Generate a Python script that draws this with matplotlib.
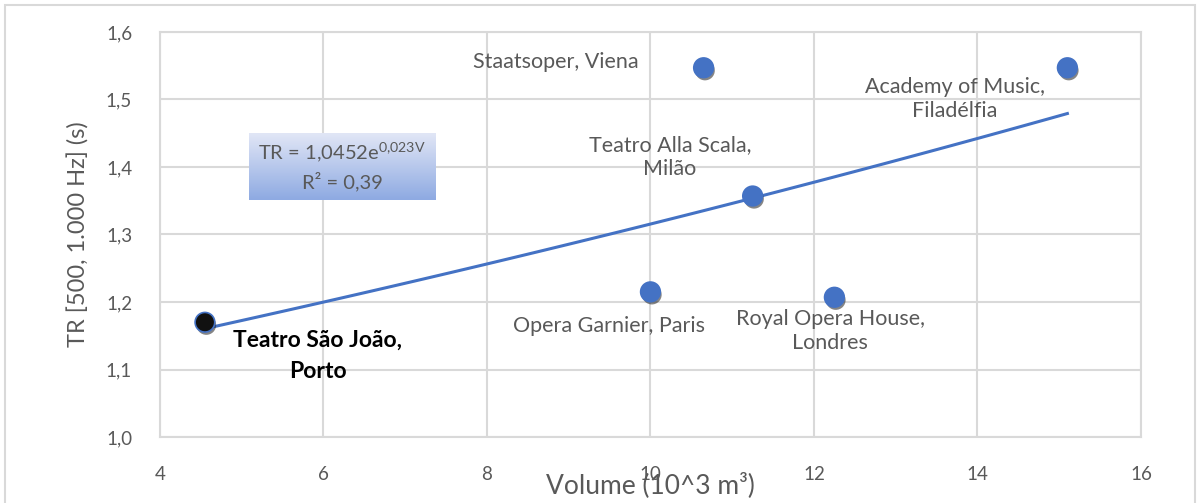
import numpy as np
import matplotlib
matplotlib.use('Agg')
import matplotlib.pyplot as plt
import matplotlib.patheffects as pe
from matplotlib.patches import Rectangle
from matplotlib.ticker import FuncFormatter
from matplotlib.colors import LinearSegmentedColormap

plt.rcParams['font.family'] = ['Lato', 'DejaVu Sans']
plt.rcParams['mathtext.fontset'] = 'custom'
plt.rcParams['mathtext.rm'] = 'Lato'

# dados
salas = ['Teatro São João,\nPorto', 'Opera Garnier, Paris', 'Staatsoper, Viena',
         'Teatro Alla Scala,\nMilão', 'Royal Opera House,\nLondres', 'Academy of Music,\nFiladélfia']
volume = [4.55, 10.0, 10.65, 11.25, 12.25, 15.1]
tr = [1.17, 1.215, 1.547, 1.357, 1.207, 1.547]

# linha de tendência exponencial (equação mostrada no gráfico)
coef_a = 1.0452
coef_b = 0.023

GRAY = '#595959'
BLUE = '#4472c4'
GRID = '#d9d9d9'

fig = plt.figure(figsize=(12, 5.03), dpi=100)
ax = fig.add_axes([0.1333, 0.1312, 0.8175, 0.8052])

# moldura exterior
fig.patches.append(Rectangle((5 / 1200, -0.1), 1190 / 1200, 1.1 - 5 / 503,
                             transform=fig.transFigure, fill=False,
                             edgecolor=GRID, linewidth=1.5))

ax.set_xlim(4, 16)
ax.set_ylim(1.0, 1.6)
ax.set_xticks(np.arange(4, 17, 2))
ax.set_yticks(np.arange(1.0, 1.61, 0.1))
ax.grid(True, color=GRID, linewidth=1.5)
ax.set_axisbelow(True)
for s in ax.spines.values():
    s.set_color(GRID)
    s.set_linewidth(1.5)
ax.tick_params(length=0, colors=GRAY, labelsize=13.5)
ax.tick_params(axis='x', pad=21)
ax.tick_params(axis='y', pad=20)
ax.yaxis.set_major_formatter(FuncFormatter(lambda v, p: f'{v:.1f}'.replace('.', ',')))

vx = np.linspace(volume[0], volume[-1], 100)
ax.plot(vx, coef_a * np.exp(coef_b * vx), color=BLUE, linewidth=2.2, zorder=2)

sombra = [pe.SimplePatchShadow(offset=(1, -2), shadow_rgbFace='#222222', alpha=0.55), pe.Normal()]
cores = ['#111111'] + [BLUE] * (len(volume) - 1)
ax.scatter(volume, tr, s=200, c=cores, edgecolors=BLUE, linewidths=1.2, zorder=3,
           path_effects=sombra)

# rótulos
pos = [(5.93, 1.12), (9.49, 1.164), (8.84, 1.556), (10.24, 1.415), (12.2, 1.157), (13.72, 1.50)]
for i, nome in enumerate(salas):
    if i == 0:
        ax.text(*pos[i], nome, ha='center', va='center', fontsize=16.5,
                fontweight='bold', color='black', linespacing=1.6)
    else:
        ax.text(*pos[i], nome, ha='center', va='center', fontsize=15.5,
                color=GRAY, linespacing=1.25)

# caixa da equação
bx0, bx1 = (249 - 160) / 81.75 + 4, (435 - 160) / 81.75 + 4
by0, by1 = 1.6 - (200 - 32) / 675, 1.6 - (134 - 32) / 675
grad = np.linspace(0, 1, 100).reshape(-1, 1)
cmap = LinearSegmentedColormap.from_list('eq', ['#e1e6f6', '#8eaae2'])
ax.imshow(grad, extent=(bx0, bx1, by0, by1), cmap=cmap, aspect='auto', zorder=2.5,
          origin='upper')
ax.set_xlim(4, 16)
ax.set_ylim(1.0, 1.6)
ax.text((bx0 + bx1) / 2, by1 - 0.028, r'TR = 1,0452e$^{\mathrm{0{,}023V}}$', ha='center',
        va='center', fontsize=14.5, color=GRAY, zorder=4)
ax.text((bx0 + bx1) / 2, by0 + 0.027, 'R² = 0,39', ha='center', va='center',
        fontsize=14.5, color=GRAY, zorder=4)

ax.set_xlabel('Volume (10^3 m³)', fontsize=19, color=GRAY, labelpad=-8)
ax.set_ylabel('TR [500, 1.000 Hz] (s)', fontsize=17, color=GRAY, labelpad=12)

fig.savefig('out.png', dpi=100)
